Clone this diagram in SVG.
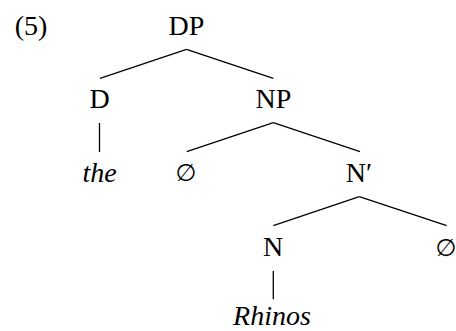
<svg xmlns="http://www.w3.org/2000/svg" width="456" height="331" viewBox="0 0 456 331">
<style>
text{font-family:"Liberation Serif","DejaVu Serif",serif;font-size:28px;fill:#000;text-anchor:middle}
.i{font-style:italic}
.e{font-family:"DejaVu Sans","Liberation Sans",sans-serif;font-size:24px}
line{stroke:#000;stroke-width:1.3}
</style>
<rect width="456" height="331" fill="#fff"/>
<text x="31" y="35">(5)</text>
<g id="DP"><text x="186.5" y="35">DP</text></g>
<g id="D"><text x="99.5" y="108">D</text></g>
<g id="NP"><text x="273.5" y="108">NP</text></g>
<g id="the"><text class="i" x="99.5" y="182">the</text></g>
<g id="null1"><text class="e" x="186" y="181">∅</text></g>
<g id="Nbar"><text x="359" y="182">N′</text></g>
<g id="N"><text x="273" y="256">N</text></g>
<g id="null2"><text class="e" x="446" y="256">∅</text></g>
<g id="Rhinos"><text class="i" x="272" y="324.5">Rhinos</text></g>
<g id="connectors">
<line x1="186.5" y1="49.3" x2="100" y2="78.3"/>
<line x1="186.5" y1="49.3" x2="273.3" y2="78.3"/>
<line x1="99.5" y1="123" x2="99.5" y2="152"/>
<line x1="273.3" y1="122.7" x2="186.7" y2="151.7"/>
<line x1="273.3" y1="122.7" x2="360" y2="151.7"/>
<line x1="359.3" y1="196.7" x2="273.3" y2="225.7"/>
<line x1="359.3" y1="196.7" x2="446.7" y2="225.7"/>
<line x1="273.3" y1="271" x2="273.3" y2="299.3"/>
</g>
</svg>
